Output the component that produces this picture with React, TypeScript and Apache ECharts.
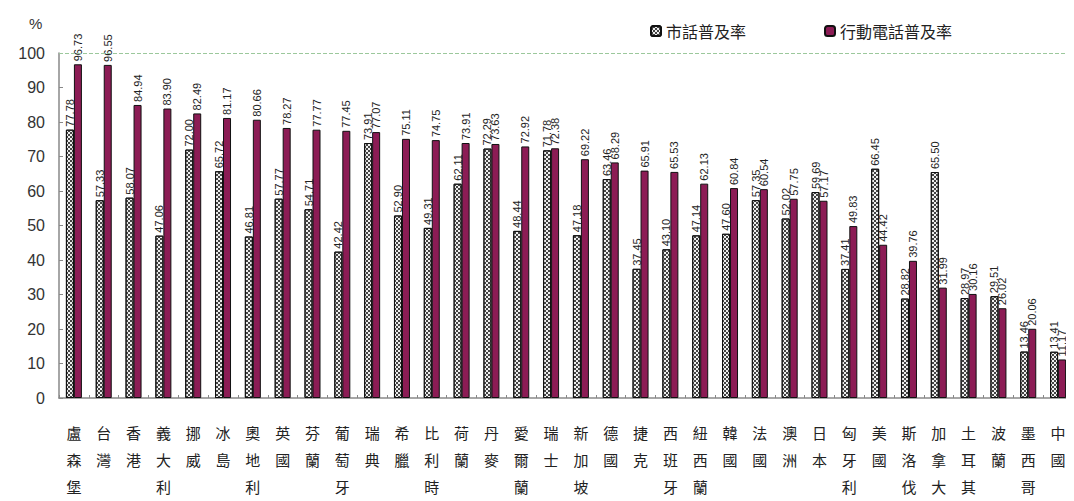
import React, { useEffect, useRef } from "react";
import * as echarts from "echarts";

const categories = [
  "盧森堡", "台灣", "香港", "義大利", "挪威", "冰島", "奧地利", "英國", "芬蘭", "葡萄牙",
  "瑞典", "希臘", "比利時", "荷蘭", "丹麥", "愛爾蘭", "瑞士", "新加坡", "德國", "捷克",
  "西班牙", "紐西蘭", "韓國", "法國", "澳洲", "日本", "匈牙利", "美國", "斯洛伐", "加拿大",
  "土耳其", "波蘭", "墨西哥", "中國",
];

const landline = [
  77.78, 57.33, 58.07, 47.06, 72.0, 65.72, 46.81, 57.77, 54.71, 42.42,
  73.91, 52.9, 49.31, 62.11, 72.29, 48.44, 71.78, 47.18, 63.46, 37.45,
  43.1, 47.14, 47.6, 57.35, 52.02, 59.69, 37.41, 66.45, 28.82, 65.5,
  28.97, 29.51, 13.46, 13.41,
];

const mobile = [
  96.73, 96.55, 84.94, 83.9, 82.49, 81.17, 80.66, 78.27, 77.77, 77.45,
  77.07, 75.11, 74.75, 73.91, 73.63, 72.92, 72.38, 69.22, 68.29, 65.91,
  65.53, 62.13, 60.84, 60.54, 57.75, 57.17, 49.83, 44.42, 39.76, 31.99,
  30.16, 26.02, 20.06, 11.17,
];

const seriesNames = ["市話普及率", "行動電話普及率"];
const yTicks = { min: 0, max: 100, interval: 10 };

export default function App() {
  const ref = useRef<HTMLDivElement>(null);
  useEffect(() => {
    if (!ref.current) return;
    const chart = echarts.init(ref.current, null, { renderer: "svg" });
    const labelCfg = {
      show: true,
      position: "top",
      rotate: 90,
      align: "left",
      verticalAlign: "middle",
      distance: 3,
      fontSize: 11,
      color: "#222",
      fontFamily: "'Liberation Sans Narrow', 'Liberation Sans', sans-serif",
      formatter: (p: any) => Number(p.value).toFixed(2),
    };
    chart.setOption({
      animation: false,
      backgroundColor: "#ffffff",
      grid: { left: 51, right: 1, top: 45, bottom: 103, containLabel: false },
      legend: {
        top: 10,
        left: 637,
        itemWidth: 10,
        itemHeight: 10,
        itemGap: 78,
        textStyle: { fontSize: 16, color: "#222", fontFamily: "'Noto Sans CJK TC', sans-serif" },
        data: seriesNames,
      },
      graphic: [
        {
          type: "text",
          left: 21,
          top: 8,
          style: { text: "%", fontSize: 15, fill: "#333", fontFamily: "'Liberation Sans', sans-serif" },
        },
      ],
      xAxis: {
        type: "category",
        data: categories,
        axisLine: { lineStyle: { color: "#888", width: 1.5 } },
        axisTick: { show: true, inside: true, length: 3, lineStyle: { color: "#888" } },
        axisLabel: {
          interval: 0,
          margin: 21,
          fontSize: 15,
          lineHeight: 27,
          color: "#222",
          fontFamily: "'Noto Sans CJK TC', sans-serif",
          verticalAlign: "top",
          formatter: (v: string) => v.split("").join("\n"),
        },
      },
      yAxis: {
        type: "value",
        min: yTicks.min,
        max: yTicks.max,
        interval: yTicks.interval,
        axisLine: { show: true, lineStyle: { color: "#888", width: 1.5 } },
        axisTick: { show: true, inside: true, length: 4, lineStyle: { color: "#888" } },
        splitLine: { show: false },
        axisLabel: {
          margin: 14,
          fontSize: 16,
          color: "#333",
          fontFamily: "'Liberation Sans Narrow', 'Liberation Sans', sans-serif",
        },
      },
      series: [
        {
          name: seriesNames[0],
          type: "bar",
          data: landline,
          barWidth: 8,
          barGap: "0%",
          itemStyle: {
            color: "#eeeeee",
            borderColor: "#111",
            borderWidth: 1,
            decal: {
              symbol: "rect",
              symbolSize: 1,
              color: "#444",
              dashArrayX: [[1.5, 1.5], [0, 1.5, 1.5, 0]],
              dashArrayY: [1.5, 0],
            },
          },
          label: labelCfg,
          markLine: {
            silent: true,
            symbol: ["none", "none"],
            label: { show: false },
            lineStyle: { color: "#9cc89c", type: "dashed", width: 1 },
            data: [{ yAxis: 100 }],
          },
        },
        {
          name: seriesNames[1],
          type: "bar",
          data: mobile,
          barWidth: 8,
          barGap: "0%",
          itemStyle: { color: "#8c1c55", borderColor: "#111", borderWidth: 1 },
          label: labelCfg,
        },
      ],
    });
    return () => chart.dispose();
  }, []);
  return <div ref={ref} style={{ width: 1066, height: 493 }} />;
}
